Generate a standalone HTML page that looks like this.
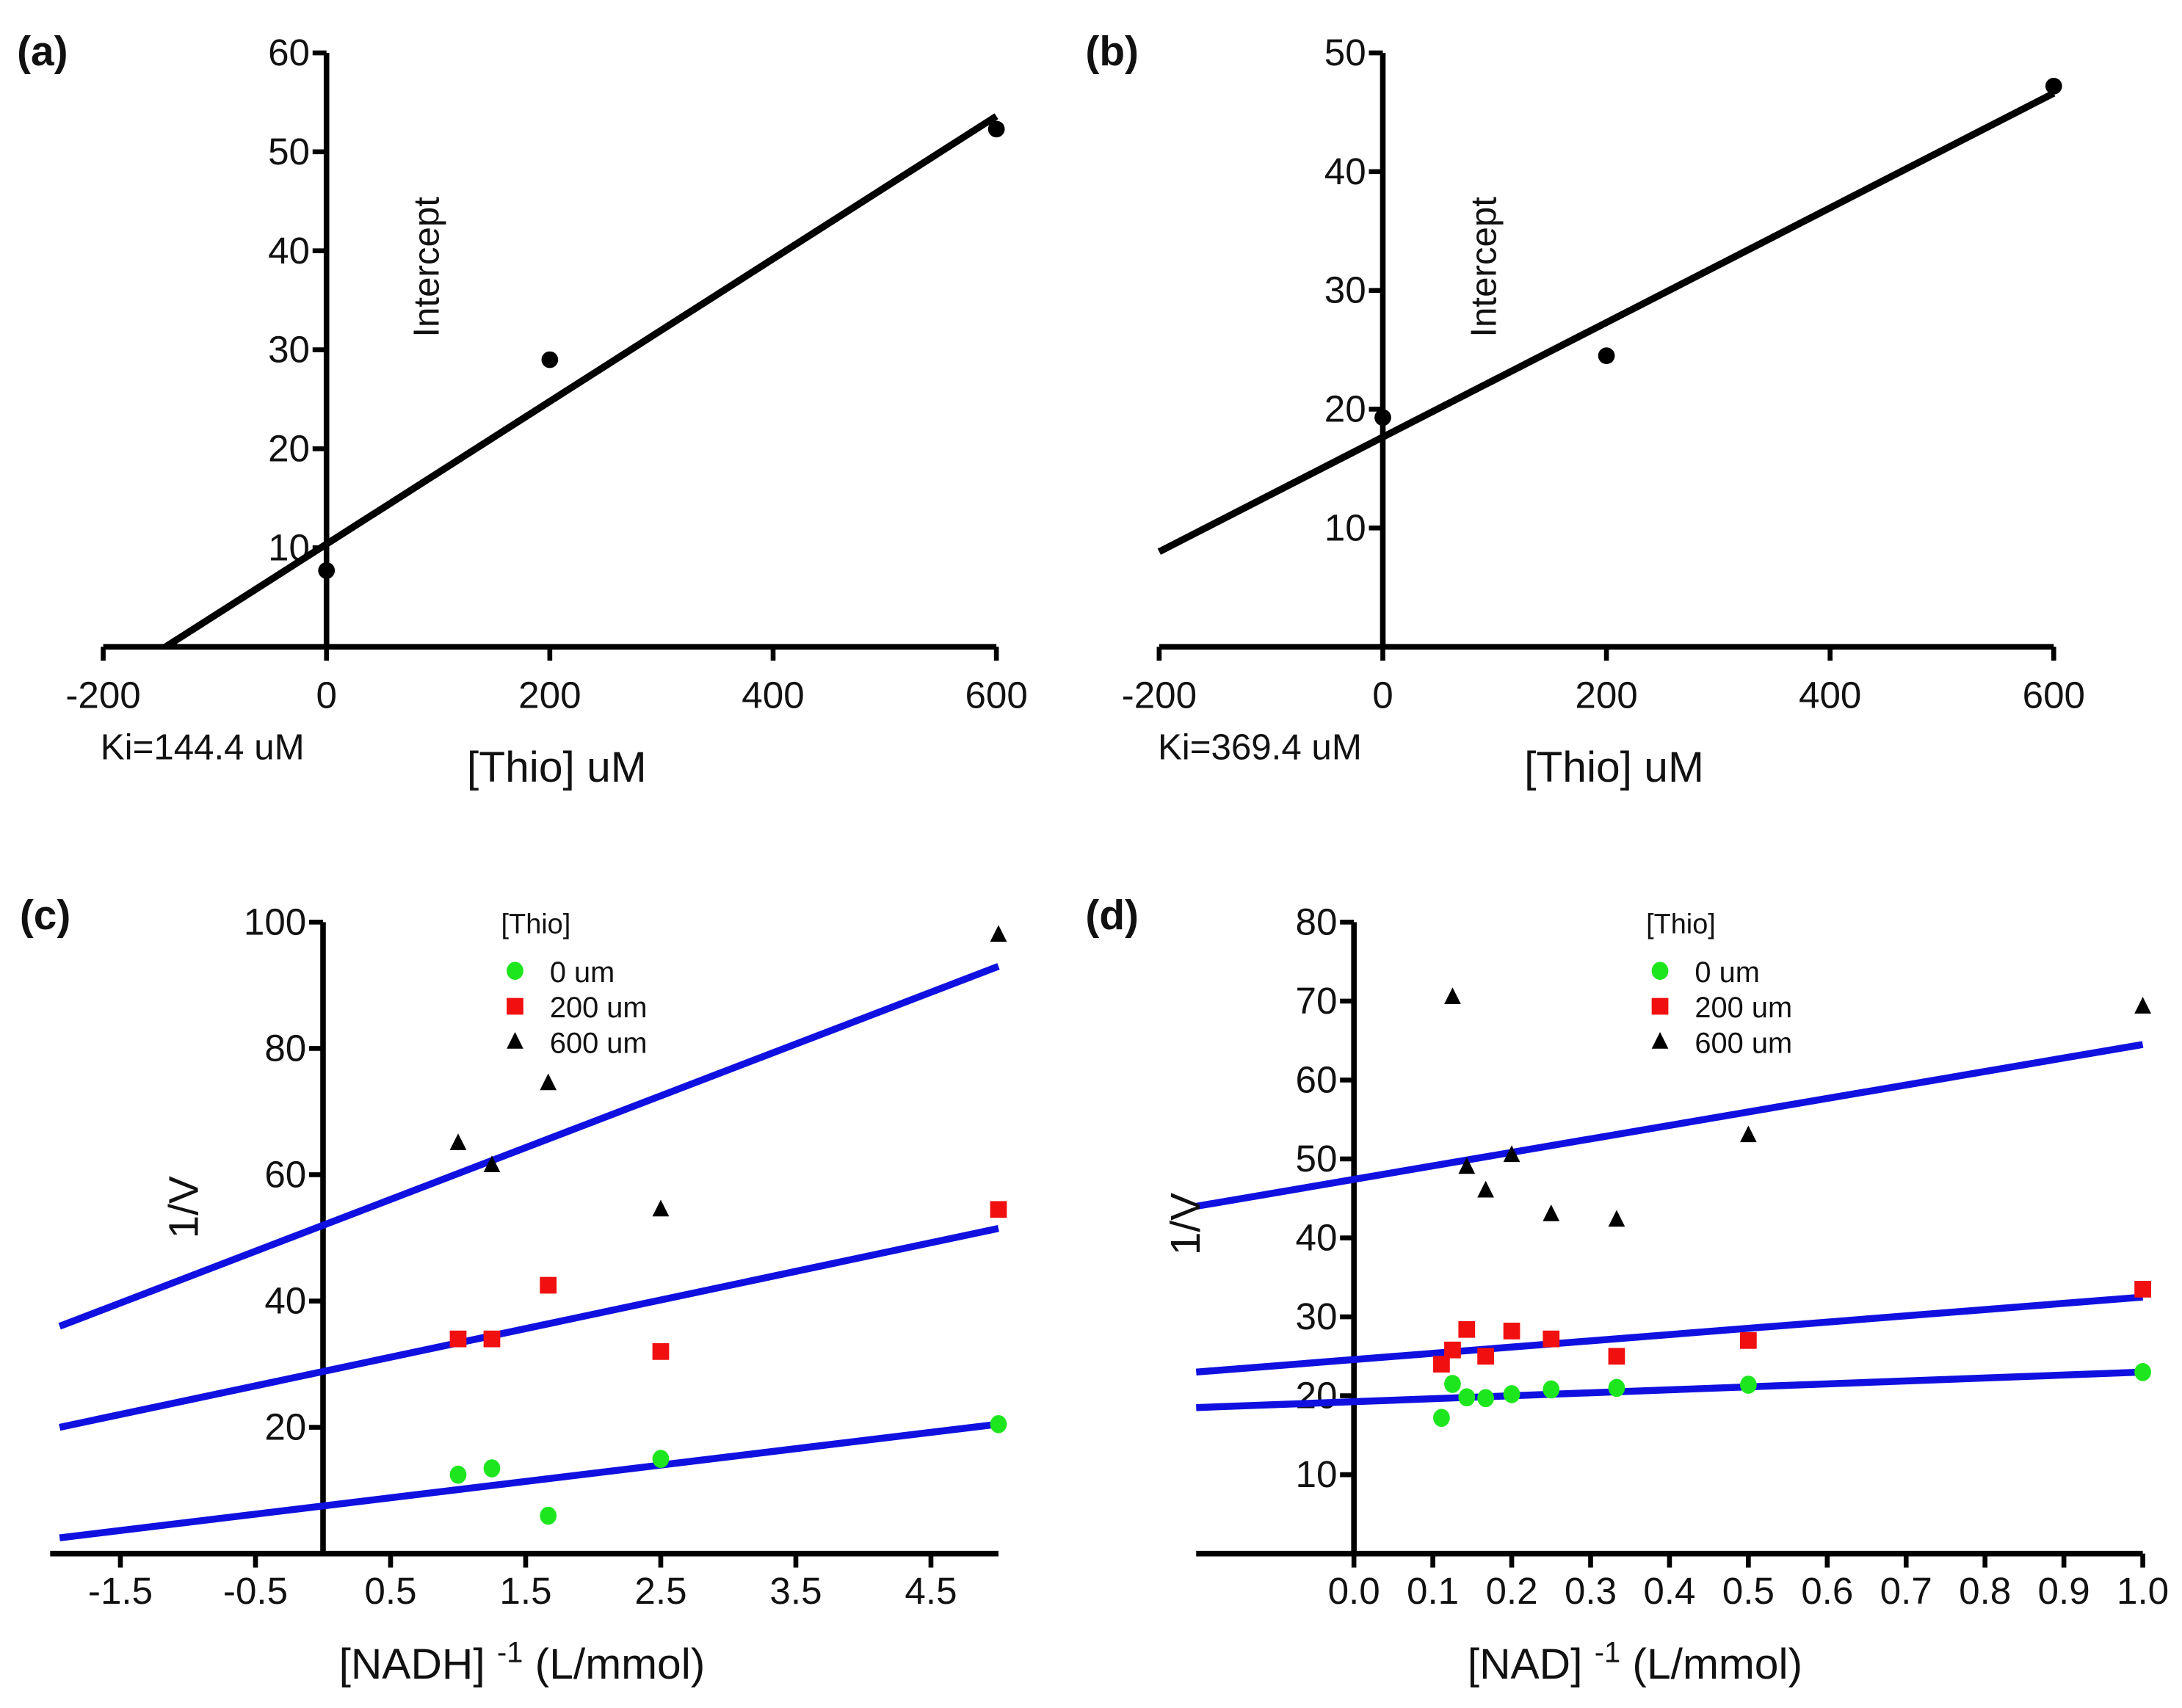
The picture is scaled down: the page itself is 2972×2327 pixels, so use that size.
<!DOCTYPE html>
<html><head><meta charset="utf-8"><style>
html,body{margin:0;padding:0;background:#fff}
svg{display:block}
text{font-family:"Liberation Sans",Arial,sans-serif;fill:#111}
</style></head><body>
<svg id="fig" xmlns="http://www.w3.org/2000/svg" width="2972" height="2327" viewBox="0 0 1568 1228">
<rect width="1568" height="1228" fill="#fff"/>
</svg>
<script>
// Panel (a) data
const aX = [0, 200, 600];
const aY = [7.7, 29, 52.3];
const aFitX = [-144, 600];
const aFitY = [0, 53.6];
const aXTicks = [-200, 0, 200, 400, 600];
const aYTicks = [10, 20, 30, 40, 50, 60];
// Panel (b) data
const bX = [0, 200, 600];
const bY = [19.3, 24.5, 47.2];
const bFitX = [-200, 600];
const bFitY = [8, 46.6];
const bXTicks = [-200, 0, 200, 400, 600];
const bYTicks = [10, 20, 30, 40, 50];
// Panel (c) data
const cX = [1, 1.25, 1.667, 2.5, 5];
const c0 = [12.5, 13.5, 6, 15, 20.5];
const c200 = [34, 34, 42.5, 32, 54.5];
const c600 = [65, 61.5, 74.5, 54.5, 98];
const cFitX = [-1.95, 5];
const cFit0 = [2.5, 20.5];
const cFit200 = [20, 51.5];
const cFit600 = [36, 93];
const cXTicks = [-1.5, -0.5, 0.5, 1.5, 2.5, 3.5, 4.5];
const cYTicks = [20, 40, 60, 80, 100];
// Panel (d) data
const dX = [0.111, 0.125, 0.143, 0.167, 0.2, 0.25, 0.333, 0.5, 1];
const d0 = [17.2, 21.5, 19.8, 19.7, 20.2, 20.8, 21, 21.4, 23];
const d200 = [24, 25.8, 28.4, 25, 28.2, 27.2, 25, 27, 33.5];
const d600X = [0.125, 0.143, 0.167, 0.2, 0.25, 0.333, 0.5, 1];
const d600 = [70.5, 49, 46, 50.5, 43, 42.3, 53, 69.3];
const dFitX = [-0.2, 1];
const dFit0 = [18.5, 23];
const dFit200 = [23, 32.5];
const dFit600 = [44, 64.5];
const dXTicks = [0, 0.1, 0.2, 0.3, 0.4, 0.5, 0.6, 0.7, 0.8, 0.9, 1.0];
const dYTicks = [10, 20, 30, 40, 50, 60, 70, 80];

const NS = "http://www.w3.org/2000/svg";
const svg = document.getElementById('fig');
function mk(tag, attrs, parent, txt){
  const e = document.createElementNS(NS, tag);
  for (const k in attrs) e.setAttribute(k, attrs[k]);
  if (txt !== undefined) e.textContent = txt;
  (parent || svg).appendChild(e);
  return e;
}
function lin(d0, d1, r0, r1){ return v => r0 + (v - d0) * (r1 - r0) / (d1 - d0); }

function axes(g, sx, sy, xmin, xmax, ymax, xTicks, yTicks, xfmt, lblOff){
  let e = mk('line', {x1: sx(xmin), x2: sx(xmax), y1: sy(0), y2: sy(0), stroke: '#000', 'stroke-width': 4}, g);
   
  e = mk('line', {x1: sx(0), x2: sx(0), y1: sy(0) + 2, y2: sy(ymax), stroke: '#000', 'stroke-width': 4}, g);
   
  xTicks.forEach(t => {
    mk('line', {x1: sx(t), x2: sx(t), y1: sy(0), y2: sy(0) + 10, stroke: '#000', 'stroke-width': 3.5}, g);
    const l = mk('text', {x: sx(t), y: sy(0) + lblOff, 'text-anchor': 'middle', 'font-size': 27}, g, xfmt ? xfmt(t) : String(t));
     
  });
  yTicks.forEach(t => {
    mk('line', {x1: sx(0) - 10, x2: sx(0), y1: sy(t), y2: sy(t), stroke: '#000', 'stroke-width': 3.5}, g);
    const l = mk('text', {x: sx(0) - 12, y: sy(t) + 9, 'text-anchor': 'end', 'font-size': 27}, g, String(t));
     
  });
}
function fit(g, sx, sy, xs, ys, col, w, name){
  const e = mk('line', {x1: sx(xs[0]), y1: sy(ys[0]), x2: sx(xs[1]), y2: sy(ys[1]), stroke: col, 'stroke-width': w}, g);
   
}
function marker(g, type, x, y, name){
  let e;
  if (type === 'circle') e = mk('ellipse', {cx: x, cy: y, rx: 6, ry: 6.5, fill: '#1ee61e'}, g);
  else if (type === 'dot') e = mk('circle', {cx: x, cy: y, r: 6, fill: '#000'}, g);
  else if (type === 'square') e = mk('rect', {x: x - 6, y: y - 6, width: 12, height: 12, fill: '#f01010'}, g);
  else e = mk('polygon', {points: `${x},${y-7} ${x-6},${y+5} ${x+6},${y+5}`, fill: '#000'}, g);
   
}
function label(txt, x, y, size, name, extra){
  const a = Object.assign({x: x, y: y, 'font-size': size}, extra || {});
  const e = mk('text', a, svg, txt);
   
  return e;
}

// ---- Panel (a)
{
  const g = mk('g', {});  
  const sx = lin(-200, 600, 74, 716), sy = lin(0, 60, 465, 38);
  axes(g, sx, sy, -200, 600, 60, aXTicks, aYTicks, null, 44);
  fit(g, sx, sy, aFitX, aFitY, '#000', 5, 'fit-line-a');
  aX.forEach((x, i) => marker(g, 'dot', sx(x), sy(aY[i]), 'point-a'));
  label('(a)', 12, 47, 30, 'panel-label-a', {'font-weight': 'bold'});
  label('Ki=144.4 uM', 72, 546, 26, 'ki-label-a');
  label('[Thio] uM', 400, 562, 31, 'x-axis-title-a', {'text-anchor': 'middle'});
  label('Intercept', 315, 192, 26, 'intercept-label-a', {'text-anchor': 'middle', transform: 'rotate(-90 315 192)'});
}
// ---- Panel (b)
{
  const g = mk('g', {});  
  const sx = lin(-200, 600, 833, 1476), sy = lin(0, 50, 465, 38);
  axes(g, sx, sy, -200, 600, 50, bXTicks, bYTicks, null, 44);
  fit(g, sx, sy, bFitX, bFitY, '#000', 5, 'fit-line-b');
  bX.forEach((x, i) => marker(g, 'dot', sx(x), sy(bY[i]), 'point-b'));
  label('(b)', 780, 47, 30, 'panel-label-b', {'font-weight': 'bold'});
  label('Ki=369.4 uM', 832, 546, 26, 'ki-label-b');
  label('[Thio] uM', 1160, 562, 31, 'x-axis-title-b', {'text-anchor': 'middle'});
  label('Intercept', 1075, 192, 26, 'intercept-label-b', {'text-anchor': 'middle', transform: 'rotate(-90 1075 192)'});
}
function legend(x, y){
  label('[Thio]', x - 10, y + 8, 20, 'legend-title');
  const names = ['0 um', '200 um', '600 um'], types = ['circle', 'square', 'tri'];
  names.forEach((n, i) => {
    const yy = y + 35 + i * 25.5;
    marker(svg, types[i], x, yy, 'legend-marker');
    label(n, x + 25, yy + 8, 21, 'legend-entry');
  });
}
// ---- Panel (c)
{
  const g = mk('g', {});  
  const sx = lin(0, 1, 232, 329.1), sy = lin(0, 100, 1117, 663);
  axes(g, sx, sy, -2.02, 5, 100, cXTicks, cYTicks, t => t.toFixed(1), 36);
  fit(g, sx, sy, cFitX, cFit0, '#1010e0', 5, 'fit-line-0um');
  fit(g, sx, sy, cFitX, cFit200, '#1010e0', 5, 'fit-line-200um');
  fit(g, sx, sy, cFitX, cFit600, '#1010e0', 5, 'fit-line-600um');
  cX.forEach((x, i) => {
    marker(g, 'circle', sx(x), sy(c0[i]), 'point-0um');
    marker(g, 'square', sx(x), sy(c200[i]), 'point-200um');
    marker(g, 'tri', sx(x), sy(c600[i]), 'point-600um');
  });
  label('(c)', 14, 668, 30, 'panel-label-c', {'font-weight': 'bold'});
  legend(370, 663);
  label('1/V', 142, 868, 30, 'y-axis-title-c', {'text-anchor': 'middle', transform: 'rotate(-90 142 868)'});
  const t = label('', 375, 1207, 31, 'x-axis-title-c', {'text-anchor': 'middle'});
  mk('tspan', {}, t, '[NADH] ');
  mk('tspan', {dy: -12, 'font-size': 21}, t, '-1');
  mk('tspan', {dy: 12}, t, ' (L/mmol)');
}
// ---- Panel (d)
{
  const g = mk('g', {});  
  const sx = lin(0, 1, 973, 1540), sy = lin(0, 80, 1117, 663);
  axes(g, sx, sy, -0.2, 1, 80, dXTicks, dYTicks, t => t.toFixed(1), 36);
  fit(g, sx, sy, dFitX, dFit0, '#1010e0', 5, 'fit-line-0um');
  fit(g, sx, sy, dFitX, dFit200, '#1010e0', 5, 'fit-line-200um');
  fit(g, sx, sy, dFitX, dFit600, '#1010e0', 5, 'fit-line-600um');
  dX.forEach((x, i) => {
    marker(g, 'circle', sx(x), sy(d0[i]), 'point-0um');
    marker(g, 'square', sx(x), sy(d200[i]), 'point-200um');
  });
  d600X.forEach((x, i) => marker(g, 'tri', sx(x), sy(d600[i]), 'point-600um'));
  label('(d)', 780, 668, 30, 'panel-label-d', {'font-weight': 'bold'});
  legend(1193, 663);
  label('1/V', 862, 880, 30, 'y-axis-title-d', {'text-anchor': 'middle', transform: 'rotate(-90 862 880)'});
  const t = label('', 1175, 1207, 31, 'x-axis-title-d', {'text-anchor': 'middle'});
  mk('tspan', {}, t, '[NAD] ');
  mk('tspan', {dy: -12, 'font-size': 21}, t, '-1');
  mk('tspan', {dy: 12}, t, ' (L/mmol)');
}
</script>
</body></html>
